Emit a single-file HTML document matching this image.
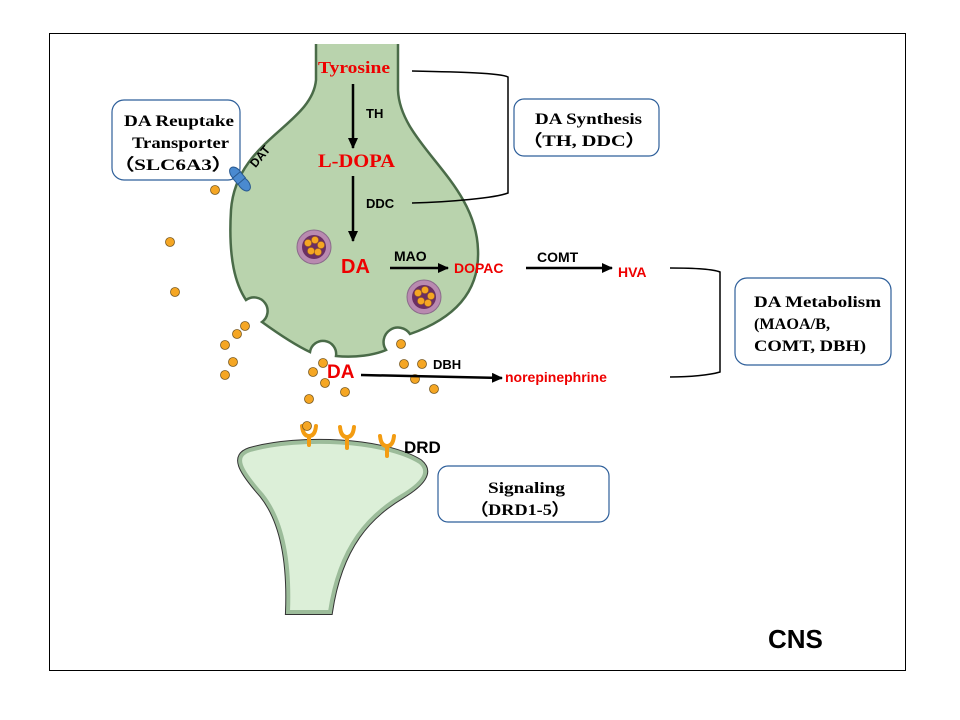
<!DOCTYPE html><html><head><style>body{margin:0;background:#fff}svg{display:block}</style></head><body>
<svg width="960" height="720" viewBox="0 0 960 720" xmlns="http://www.w3.org/2000/svg" font-family="Liberation Sans, sans-serif">
<rect x="0" y="0" width="960" height="720" fill="#fff"/>
<rect x="49.5" y="33.5" width="856" height="637" fill="none" stroke="#000" stroke-width="1"/>
<defs><marker id="ah" markerWidth="11" markerHeight="10" refX="10" refY="5" orient="auto" markerUnits="userSpaceOnUse"><path d="M0,0 L11,5 L0,10Z" fill="#000"/></marker></defs>
<!-- presynaptic -->
<path d="M316,44 L316,80 C312,125 236,140 231,210 C228,260 236,285 246,300 A13,13 0 1 1 262,322 C280,335 295,345 310,352 A13,13 0 0 1 336,356 C355,358 375,355 386,350 A13,13 0 0 1 410,334 C450,320 480,295 478,250 C476,180 400,145 398,90 L398,44" fill="#b9d3ad" stroke="#4a6b48" stroke-width="2.5"/>
<!-- vesicles -->
<circle cx="314" cy="247" r="17" fill="#b98ab0" stroke="#8a6a8a"/><circle cx="314" cy="247" r="12" fill="#6b2f63"/>
<circle cx="424" cy="297" r="17" fill="#b98ab0" stroke="#8a6a8a"/><circle cx="424" cy="297" r="12" fill="#6b2f63"/>
<g fill="#f5a623" stroke="#b07010" stroke-width="0.5">
<circle cx="308" cy="243" r="3.5"/><circle cx="315" cy="240" r="3.5"/><circle cx="321" cy="245" r="3.5"/><circle cx="311" cy="251" r="3.5"/><circle cx="318" cy="252" r="3.5"/>
<circle cx="418" cy="293" r="3.5"/><circle cx="425" cy="290" r="3.5"/><circle cx="431" cy="296" r="3.5"/><circle cx="421" cy="301" r="3.5"/><circle cx="428" cy="303" r="3.5"/>
</g>
<!-- postsynaptic -->
<path d="M250,450 C300,436 385,440 420,462 C432,472 422,484 402,496 C370,515 340,545 330,612 L288,612 C290,560 282,520 262,495 C240,470 232,456 250,450Z" fill="#dcefd8" stroke="#333" stroke-width="6"/>
<path d="M250,450 C300,436 385,440 420,462 C432,472 422,484 402,496 C370,515 340,545 330,612 L288,612 C290,560 282,520 262,495 C240,470 232,456 250,450Z" fill="#dcefd8" stroke="#9cbc9a" stroke-width="4"/>
<g stroke="#f39c12" stroke-width="4" fill="none" stroke-linecap="round">
<path d="M309,445 L309,436 M302,426 Q303,436 309,436 Q315,436 316,426"/>
<path d="M347,448 L347,437 M340,427 Q341,437 347,437 Q353,437 354,427"/>
<path d="M387,456 L387,446 M380,436 Q381,446 387,446 Q393,446 394,436"/>
</g>
<text x="404" y="453" font-size="17" font-weight="bold">DRD</text>
<!-- dots -->
<g fill="#f5a623" stroke="#7a5a20" stroke-width="0.8">
<circle cx="215" cy="190" r="4.5"/><circle cx="170" cy="242" r="4.5"/><circle cx="175" cy="292" r="4.5"/><circle cx="245" cy="326" r="4.5"/><circle cx="237" cy="334" r="4.5"/><circle cx="225" cy="345" r="4.5"/><circle cx="233" cy="362" r="4.5"/><circle cx="225" cy="375" r="4.5"/><circle cx="323" cy="363" r="4.5"/><circle cx="313" cy="372" r="4.5"/><circle cx="325" cy="383" r="4.5"/><circle cx="309" cy="399" r="4.5"/><circle cx="345" cy="392" r="4.5"/><circle cx="401" cy="344" r="4.5"/><circle cx="404" cy="364" r="4.5"/><circle cx="422" cy="364" r="4.5"/><circle cx="415" cy="379" r="4.5"/><circle cx="434" cy="389" r="4.5"/><circle cx="307" cy="426" r="4.5"/>
</g>
<!-- arrows -->
<g stroke="#000" stroke-width="2.5" marker-end="url(#ah)">
<line x1="353" y1="84" x2="353" y2="148"/><line x1="353" y1="176" x2="353" y2="241"/>
<line x1="390" y1="268" x2="448" y2="268"/><line x1="526" y1="268" x2="612" y2="268"/>
<line x1="361" y1="375" x2="502" y2="378"/>
</g>
<!-- brackets -->
<path d="M412,71 C460,72 500,73 508,77 L508,193 C495,198 450,202 412,203" fill="none" stroke="#000" stroke-width="1.5"/>
<path d="M670,268 C700,268 715,270 720,272 L720,372 C710,375 690,377 670,377" fill="none" stroke="#000" stroke-width="1.5"/>
<!-- labels -->
<g font-family="Liberation Serif, serif" font-weight="bold">
<text x="318" y="73" font-size="17" fill="#e00" textLength="72" lengthAdjust="spacingAndGlyphs">Tyrosine</text>
<text x="318" y="167" font-size="19" fill="#e00" textLength="77" lengthAdjust="spacingAndGlyphs">L-DOPA</text>
</g>
<g font-weight="bold">
<text x="366" y="118" font-size="13">TH</text>
<text x="366" y="208" font-size="13">DDC</text>
<text x="341" y="273" font-size="20" fill="#e00">DA</text>
<text x="394" y="261" font-size="14">MAO</text>
<text x="454" y="273" font-size="14" fill="#e00">DOPAC</text>
<text x="537" y="262" font-size="14">COMT</text>
<text x="618" y="277" font-size="14" fill="#e00">HVA</text>
<text x="327" y="378" font-size="19" fill="#e00">DA</text>
<text x="433" y="369" font-size="13">DBH</text>
<text x="505" y="382" font-size="14" fill="#e00">norepinephrine</text>
<text x="768" y="648" font-size="26">CNS</text>
</g>
<!-- boxes -->
<g fill="#fff" stroke="#2e5f9a" stroke-width="1.2">
<rect x="112" y="100" width="128" height="80" rx="12"/>
<rect x="514" y="99" width="145" height="57" rx="10"/>
<rect x="735" y="278" width="156" height="87" rx="12"/>
<rect x="438" y="466" width="171" height="56" rx="10"/>
</g>
<g font-family="Liberation Serif, serif" font-weight="bold" font-size="16">
<text x="124" y="126" textLength="110" lengthAdjust="spacingAndGlyphs">DA Reuptake</text><text x="132" y="148" textLength="97" lengthAdjust="spacingAndGlyphs">Transporter</text><text x="113" y="170" textLength="120" lengthAdjust="spacingAndGlyphs">（SLC6A3）</text>
<text x="535" y="124" textLength="107" lengthAdjust="spacingAndGlyphs">DA Synthesis</text><text x="522" y="146" textLength="124" lengthAdjust="spacingAndGlyphs">（TH, DDC）</text>
<text x="754" y="307" textLength="127" lengthAdjust="spacingAndGlyphs">DA Metabolism</text><text x="754" y="329" textLength="76" lengthAdjust="spacingAndGlyphs">(MAOA/B,</text><text x="754" y="351" textLength="112" lengthAdjust="spacingAndGlyphs">COMT, DBH)</text>
<text x="488" y="493" textLength="77" lengthAdjust="spacingAndGlyphs">Signaling</text><text x="470" y="515" textLength="100" lengthAdjust="spacingAndGlyphs">（DRD1-5）</text>
</g>
<!-- DAT -->
<g fill="#4a8ad0" stroke="#2a5a90"><ellipse cx="236" cy="174" rx="8" ry="5" transform="rotate(50 236 174)"/><ellipse cx="244" cy="184" rx="8" ry="5" transform="rotate(50 244 184)"/><rect x="234" y="174" width="10" height="8" transform="rotate(-40 239 178)"/></g>
<text x="248" y="168" font-size="12" font-weight="bold" transform="rotate(-50 252 160)">DAT</text>
</svg>
</body></html>
